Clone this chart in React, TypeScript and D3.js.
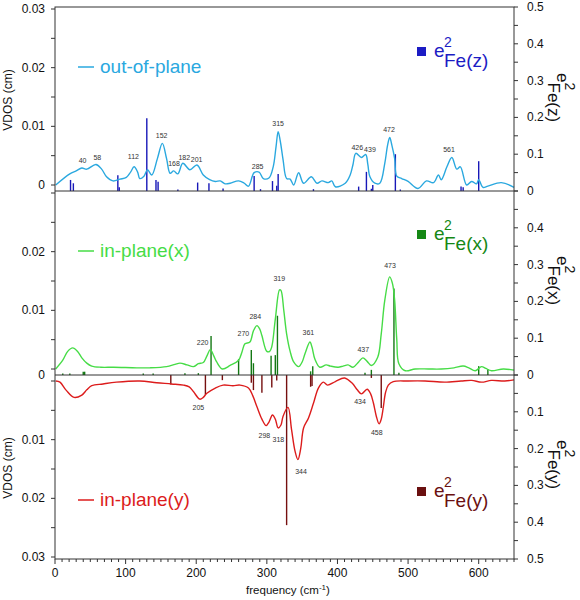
import React from "react";
import * as d3 from "d3";

// ---------- DATA ----------
// out-of-plane VDOS (top panel)
const outFreq = [1, 21, 30, 38, 45, 58, 66, 73, 82, 92, 101, 107, 112, 117, 120, 126, 131, 137, 145, 152, 158, 163, 168, 174, 181, 191, 201, 210, 219, 227, 234, 241, 248, 260, 268, 274, 282, 289, 295, 303, 309, 313, 316, 319, 323, 328, 333, 338, 345, 352, 363, 371, 378, 387, 392, 397, 411, 418, 422, 426, 434, 440, 443, 446, 453, 460, 467, 471, 474, 477, 481, 484, 491, 500, 514, 526, 536, 543, 547, 555, 562, 569, 574, 583, 590, 597, 600, 606, 613, 632, 650];
const outVdos = [0.0, 0.0019, 0.0024, 0.0029, 0.0027, 0.0035, 0.0027, 0.0014, 0.0007, 0.001, 0.0013, 0.0022, 0.0031, 0.0022, 0.0011, 0.0015, 0.0026, 0.0017, 0.0045, 0.0071, 0.0045, 0.002, 0.0024, 0.0019, 0.0037, 0.0026, 0.0034, 0.0017, 0.0009, 0.0006, 0.0007, 0.0002, 0.0003, 0.0007, 0.0003, -0.0002, 0.0021, 0.0022, 0.0011, 0.0012, 0.0031, 0.0065, 0.0091, 0.0075, 0.0043, 0.0011, 0.001, 0.0, 0.0021, 0.0003, 0.0014, 0.0003, 0.0007, 0.0004, 0.0007, -0.0003, 0.0003, 0.0017, 0.0035, 0.0054, 0.0047, 0.0052, 0.0035, 0.0014, 0.0003, 0.0003, 0.0037, 0.0068, 0.0081, 0.0068, 0.0045, 0.0015, 0.0011, 0.0006, -0.0006, 0.0007, 0.0004, 0.0017, 0.0009, 0.0031, 0.0047, 0.0027, 0.0031, 0.0, 0.0006, 0.0002, 0.0009, -0.0004, -0.0002, 0.0004, -0.0004];

// in-plane(x) VDOS (middle panel)
const inXFreq = [1, 11, 18, 25, 32, 38, 45, 52, 65, 83, 116, 134, 158, 170, 177, 187, 196, 203, 210, 215, 220, 225, 229, 237, 248, 260, 265, 269, 276, 281, 286, 290, 293, 300, 304, 307, 312, 318, 320, 324, 328, 333, 338, 345, 350, 354, 361, 364, 368, 375, 384, 390, 401, 408, 415, 422, 430, 436, 442, 448, 457, 462, 467, 474, 478, 481, 484, 487, 496, 510, 529, 547, 565, 578, 586, 595, 604, 610, 618, 635, 650];
const inXVdos = [0.0, 0.0015, 0.003, 0.0036, 0.003, 0.0019, 0.001, 0.0005, 0.0003, 0.0003, 0.0002, 0.0002, 0.0004, 0.0008, 0.001, 0.0007, 0.0004, 0.0009, 0.0011, 0.0022, 0.0033, 0.0022, 0.0012, 0.0, 0.0006, 0.0015, 0.003, 0.0043, 0.0046, 0.0065, 0.0074, 0.0068, 0.0057, 0.003, 0.003, 0.0038, 0.0085, 0.0135, 0.0134, 0.01, 0.006, 0.003, 0.0012, 0.0004, 0.0012, 0.0026, 0.0046, 0.0037, 0.0017, 0.0003, 0.0007, 0.0005, 0.0003, 0.0005, 0.0007, 0.0003, 0.0012, 0.0019, 0.0013, 0.0006, 0.002, 0.006, 0.0117, 0.0157, 0.0145, 0.0117, 0.005, 0.0009, -0.0003, 0.0, 0.0, 0.0, 0.0002, 0.0005, 0.0002, -0.0003, 0.0004, 0.0001, -0.0003, 0.0, -0.0002];

// in-plane(y) VDOS (bottom panel, drawn downward)
const inYFreq = [1, 7, 16, 27, 38, 45, 52, 68, 87, 120, 144, 165, 182, 190, 196, 205, 210, 215, 227, 238, 252, 262, 274, 280, 286, 293, 299, 303, 308, 312, 316, 320, 323, 330, 335, 340, 344, 348, 352, 359, 366, 373, 380, 386, 397, 410, 421, 428, 434, 442, 447, 451, 455, 459, 462, 465, 468, 472, 479, 500, 524, 552, 575, 590, 604, 618, 637, 650];
const inYVdos = [0.0, 0.0002, 0.0016, 0.0028, 0.0024, 0.0015, 0.0008, 0.0005, 0.0002, 0.0, 0.0003, 0.0005, 0.0007, 0.001, 0.0018, 0.0031, 0.0028, 0.0021, 0.0012, 0.0007, 0.0008, 0.0007, 0.0012, 0.0025, 0.0044, 0.0065, 0.0076, 0.007, 0.0058, 0.0065, 0.008, 0.0075, 0.006, 0.0045, 0.0083, 0.012, 0.0134, 0.0115, 0.008, 0.0063, 0.0038, 0.0012, 0.0002, 0.0007, 0.0001, -0.0005, 0.0004, 0.0015, 0.0022, 0.0014, 0.0022, 0.0038, 0.006, 0.0073, 0.0065, 0.0044, 0.002, 0.0007, 0.0001, 0.0, 0.0, 0.0002, 0.0, -0.0001, 0.0002, -0.0001, 0.0, -0.0002];

// e^2 Fe sticks
const eZFreq = [22, 26, 89, 91, 130, 143, 146, 174, 202, 218, 238, 282, 291, 308, 314, 316, 366, 430, 441, 448, 450, 482, 489, 575, 578, 600];
const eZVal = [0.03, 0.021, 0.043, 0.01, 0.198, 0.03, 0.025, 0.004, 0.023, 0.021, 0.007, 0.041, 0.005, 0.027, 0.014, 0.046, 0.005, 0.012, 0.052, 0.006, 0.016, 0.1, 0.004, 0.012, 0.01, 0.081];
const eXFreq = [11, 21, 40, 42, 125, 139, 184, 203, 221, 260, 278, 281, 306, 312, 315, 362, 365, 439, 448, 480, 487, 600, 613];
const eXVal = [0.004, 0.004, 0.009, 0.009, 0.004, 0.004, 0.005, 0.005, 0.106, 0.043, 0.068, 0.032, 0.052, 0.054, 0.161, 0.01, 0.024, 0.006, 0.014, 0.235, 0.006, 0.024, 0.016];
const eYFreq = [164, 213, 237, 278, 281, 293, 307, 314, 328, 362, 364, 448, 462];
const eYVal = [0.026, 0.054, 0.014, 0.021, 0.041, 0.048, 0.034, 0.015, 0.408, 0.032, 0.03, 0.008, 0.09];

// peak labels: text, x position (cm-1), y position (VDOS units)
const peakZText = ["40", "58", "112", "152", "168", "182", "201", "285", "315", "426", "439", "472", "561"];
const peakZFreq = [39, 60, 111, 151, 168.5, 183, 200.6, 287, 316, 428, 446, 473, 558];
const peakZVal = [0.0041, 0.0047, 0.0048, 0.0084, 0.0037, 0.0047, 0.0044, 0.0031, 0.0105, 0.0064, 0.0061, 0.0095, 0.0061];
const peakXText = ["220", "270", "284", "319", "361", "437", "473"];
const peakXFreq = [209, 266.7, 283.6, 317.6, 358.8, 436.6, 474.4];
const peakXVal = [0.0045, 0.006, 0.009, 0.0154, 0.0063, 0.0033, 0.0177];
const peakYText = ["205", "298", "318", "344", "434", "458"];
const peakYFreq = [203, 296.5, 316.3, 348.4, 432, 455.6];
const peakYVal = [0.0046, 0.0093, 0.0099, 0.0154, 0.0035, 0.0088];

// axis ticks
const xMajor = [0, 100, 200, 300, 400, 500, 600];
const leftTicks = [0, 0.005, 0.01, 0.015, 0.02, 0.025, 0.03];
const rightTicks = [0, 0.05, 0.1, 0.15, 0.2, 0.25, 0.3, 0.35, 0.4, 0.45, 0.5];

// ---------- LAYOUT ----------
const X0 = 55;
const X1 = 514;
const PH = 184; // panel height
const TOP1 = 7;
const TOP2 = TOP1 + PH;
const TOP3 = TOP2 + PH;
const BOT3 = TOP3 + PH;
const ZOFF = 6; // VDOS zero offset from panel base
const FONT = "'Liberation Sans', Arial, Helvetica, sans-serif";
const AXC = "#333";

const x = d3.scaleLinear().domain([0, 650]).range([X0, X1]);
const xTicksMinor = d3.range(0, 651, 10);

type Panel = {
  yL: d3.ScaleLinear<number, number>;
  yR: d3.ScaleLinear<number, number>;
};
const p1: Panel = {
  yL: d3.scaleLinear().domain([0, 0.03]).range([TOP2 - ZOFF, TOP2 - ZOFF - 176]),
  yR: d3.scaleLinear().domain([0, 0.5]).range([TOP2, TOP1]),
};
const p2: Panel = {
  yL: d3.scaleLinear().domain([0, 0.03]).range([TOP3 - ZOFF, TOP3 - ZOFF - 176]),
  yR: d3.scaleLinear().domain([0, 0.5]).range([TOP3, TOP2]),
};
const p3: Panel = {
  yL: d3.scaleLinear().domain([0, 0.03]).range([TOP3 + ZOFF, TOP3 + ZOFF + 176]),
  yR: d3.scaleLinear().domain([0, 0.5]).range([TOP3, BOT3]),
};

const C = {
  zCurve: "#2aa8df",
  zStick: "#1818b8",
  zLeg: "#1c1cc4",
  xCurve: "#46dc46",
  xStick: "#147814",
  xLeg: "#158815",
  yCurve: "#dc1c1c",
  yStick: "#761010",
  yLeg: "#6a1010",
};

function curvePath(f: number[], v: number[], p: Panel) {
  const pts: [number, number][] = f.map((d, i) => [d, v[i]]);
  return d3
    .line<[number, number]>()
    .x((d) => x(d[0]))
    .y((d) => p.yL(d[1]))
    .curve(d3.curveCatmullRom.alpha(0.5))(pts) as string;
}

function Sticks({ f, v, p, color }: { f: number[]; v: number[]; p: Panel; color: string }) {
  return (
    <g stroke={color} strokeWidth={1.4}>
      {f.map((d, i) => (
        <line key={i} x1={x(d)} x2={x(d)} y1={p.yR(0)} y2={p.yR(v[i])} />
      ))}
    </g>
  );
}

function PeakLabels({ t, f, v, p }: { t: string[]; f: number[]; v: number[]; p: Panel }) {
  return (
    <g fontSize={7} fill="#333" textAnchor="middle" fontFamily={FONT}>
      {t.map((s, i) => (
        <text key={i} x={x(f[i])} y={p.yL(v[i]) + 2.5}>
          {s}
        </text>
      ))}
    </g>
  );
}

function LeftAxis({ p, labels }: { p: Panel; labels: number[] }) {
  return (
    <g>
      {leftTicks.map((t, i) => (
        <line key={i} x1={X0 - 4} x2={X0} y1={p.yL(t)} y2={p.yL(t)} stroke={AXC} />
      ))}
      {labels.map((t, i) => (
        <text key={"l" + i} x={X0 - 10} y={p.yL(t) + 4} textAnchor="end" fontSize={12} fill="#111">
          {t}
        </text>
      ))}
    </g>
  );
}

function RightAxis({ p, labels }: { p: Panel; labels: number[] }) {
  return (
    <g>
      {rightTicks.map((t, i) => (
        <line key={i} x1={X1} x2={X1 + 4} y1={p.yR(t)} y2={p.yR(t)} stroke={AXC} />
      ))}
      {labels.map((t, i) => (
        <text key={"l" + i} x={X1 + 13} y={p.yR(t) + 4} fontSize={12} fill="#111">
          {t}
        </text>
      ))}
    </g>
  );
}

function RightTitle({ top, sub }: { top: number; sub: string }) {
  return (
    <g transform={`translate(557,${top}) rotate(90)`} fill="#111">
      <text x={0} y={0} fontSize={17}>
        e
        <tspan x={9.5} y={-8} fontSize={14}>2</tspan>
        <tspan x={9.5} y={9}>{sub}</tspan>
      </text>
    </g>
  );
}

function ELegend({ base, sub, color }: { base: number; sub: string; color: string }) {
  return (
    <g fill={color}>
      <rect x={417} y={base - 10} width={9} height={9} />
      <text x={434} y={base} fontSize={19}>e</text>
      <text x={444} y={base - 10} fontSize={14}>2</text>
      <text x={444} y={base + 10} fontSize={19}>{sub}</text>
    </g>
  );
}

function LineLegend({ base, label, color }: { base: number; label: string; color: string }) {
  return (
    <g>
      <line x1={78} x2={94} y1={base - 6} y2={base - 6} stroke={color} strokeWidth={1.5} />
      <text x={100} y={base} fontSize={19} fill={color}>{label}</text>
    </g>
  );
}

export default function App() {
  return (
    <div style={{ position: "absolute", left: 0, top: 0, width: 580, height: 600, background: "#fff" }}>
      <svg width={580} height={600} fontFamily={FONT}>
        <rect width={580} height={600} fill="#fff" />

        {/* sticks */}
        <Sticks f={eZFreq} v={eZVal} p={p1} color={C.zStick} />
        <Sticks f={eXFreq} v={eXVal} p={p2} color={C.xStick} />
        <Sticks f={eYFreq} v={eYVal} p={p3} color={C.yStick} />

        {/* curves */}
        <path d={curvePath(outFreq, outVdos, p1)} fill="none" stroke={C.zCurve} strokeWidth={1.4} />
        <path d={curvePath(inXFreq, inXVdos, p2)} fill="none" stroke={C.xCurve} strokeWidth={1.4} />
        <path d={curvePath(inYFreq, inYVdos, p3)} fill="none" stroke={C.yCurve} strokeWidth={1.4} />

        {/* peak labels */}
        <PeakLabels t={peakZText} f={peakZFreq} v={peakZVal} p={p1} />
        <PeakLabels t={peakXText} f={peakXFreq} v={peakXVal} p={p2} />
        <PeakLabels t={peakYText} f={peakYFreq} v={peakYVal} p={p3} />

        {/* frame */}
        <g stroke={AXC} strokeWidth={1} fill="none">
          <rect x={X0} y={TOP1} width={X1 - X0} height={BOT3 - TOP1} />
          <line x1={X0} x2={X1} y1={TOP2} y2={TOP2} />
          <line x1={X0} x2={X1} y1={TOP3} y2={TOP3} />
        </g>

        {/* left axes */}
        <LeftAxis p={p1} labels={[0, 0.01, 0.02, 0.03]} />
        <LeftAxis p={p2} labels={[0.01, 0.02]} />
        <LeftAxis p={p3} labels={[0.01, 0.02, 0.03]} />
        <text x={X0 - 10} y={TOP3 + 4} textAnchor="end" fontSize={12} fill="#111">0</text>

        {/* right axes */}
        <RightAxis p={p1} labels={[0, 0.1, 0.2, 0.3, 0.4, 0.5]} />
        <RightAxis p={p2} labels={[0.1, 0.2, 0.3, 0.4]} />
        <RightAxis p={p3} labels={[0, 0.1, 0.2, 0.3, 0.4, 0.5]} />

        {/* x axis */}
        <g stroke={AXC}>
          {xTicksMinor.map((t) => (
            <line key={t} x1={x(t)} x2={x(t)} y1={BOT3} y2={BOT3 + (t % 100 === 0 ? 5 : 3)} />
          ))}
        </g>
        {xMajor.map((t) => (
          <text key={t} x={x(t)} y={BOT3 + 18} textAnchor="middle" fontSize={12} fill="#111">
            {t}
          </text>
        ))}
        <text x={288} y={594} textAnchor="middle" fontSize={11.5} fill="#111">
          frequency (cm<tspan fontSize={8} dy={-4}>-1</tspan>
          <tspan dy={4}>)</tspan>
        </text>

        {/* left titles */}
        <text transform={`translate(12,100) rotate(-90)`} textAnchor="middle" fontSize={12} fill="#111">
          VDOS (cm)
        </text>
        <text transform={`translate(12,468) rotate(-90)`} textAnchor="middle" fontSize={12} fill="#111">
          VDOS (cm)
        </text>

        {/* right titles */}
        <RightTitle top={73} sub="Fe(z)" />
        <RightTitle top={256} sub="Fe(x)" />
        <RightTitle top={440} sub="Fe(y)" />

        {/* legends */}
        <LineLegend base={73} label="out-of-plane" color={C.zCurve} />
        <LineLegend base={257} label="in-plane(x)" color={C.xCurve} />
        <LineLegend base={506} label="in-plane(y)" color={C.yCurve} />
        <ELegend base={57} sub="Fe(z)" color={C.zLeg} />
        <ELegend base={240} sub="Fe(x)" color={C.xLeg} />
        <ELegend base={497} sub="Fe(y)" color={C.yLeg} />
      </svg>
    </div>
  );
}
